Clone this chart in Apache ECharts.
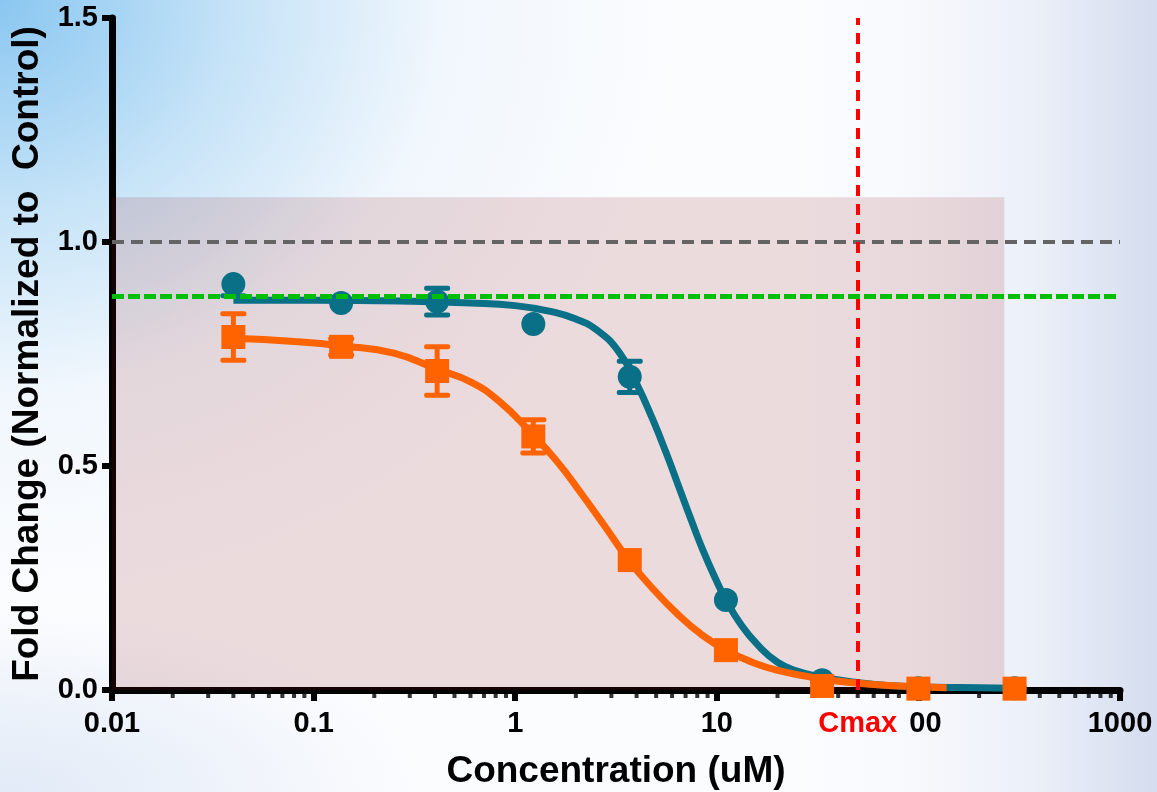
<!DOCTYPE html>
<html>
<head>
<meta charset="utf-8">
<title>Fold Change vs Concentration</title>
<script src="https://cdn.jsdelivr.net/npm/echarts@6/dist/echarts.min.js"></script>
<style>
  html, body { margin: 0; padding: 0; }
  #chart {
    width: 1157px;
    height: 792px;
    background:
      radial-gradient(ellipse 680px 600px at 0px 0px, rgba(132,196,240,0.95) 0%, rgba(170,214,244,0.65) 35%, rgba(215,234,249,0.3) 65%, rgba(255,255,255,0) 100%),
      linear-gradient(to left, rgba(208,217,237,0.9) 0px, rgba(222,229,243,0.55) 120px, rgba(240,243,249,0.25) 260px, rgba(255,255,255,0) 360px),
      radial-gradient(ellipse 420px 180px at 0px 792px, rgba(222,232,246,0.9) 0%, rgba(255,255,255,0) 100%),
      #fbfcfe;
  }
</style>
</head>
<body>
<div id="chart"></div>
<script>
// Concentrations tested (uM), shared by both compounds
const concentrations = [0.04, 0.137, 0.41, 1.23, 3.7, 11.1, 33.3, 100, 300];

// Teal compound: mean fold change, lower and upper SD (0 = bar not drawn / hidden in marker)
const tealMean    = [0.906, 0.864, 0.867, 0.817, 0.699, 0.201, 0.022, 0.004, 0.004];
const tealSDLow   = [0.026, 0, 0.030, 0, 0.035, 0, 0, 0, 0];
const tealSDHigh  = [0,     0, 0.030, 0, 0.035, 0, 0, 0, 0];

// Orange compound: mean fold change, lower and upper SD
const orangeMean   = [0.788, 0.766, 0.712, 0.566, 0.290, 0.089, 0.009, 0.003, 0.003];
const orangeSDLow  = [0.052, 0.018, 0.054, 0.037, 0, 0, 0, 0, 0];
const orangeSDHigh = [0.052, 0.018, 0.054, 0.037, 0, 0, 0, 0, 0];

// Fitted dose-response curves, sampled along the drawn line
const tealFitConc  = [0.04, 0.1, 0.3, 0.6, 1.0, 1.5, 2.0, 2.6, 3.3, 4.0, 4.8, 5.6, 6.5, 7.5, 8.5, 10, 11.1, 13, 16, 20, 25, 33, 47, 70, 120, 200, 293];
const tealFitValue = [0.870, 0.870, 0.868, 0.864, 0.858, 0.845, 0.828, 0.800, 0.752, 0.684, 0.605, 0.530, 0.452, 0.377, 0.314, 0.242, 0.201, 0.150, 0.100, 0.062, 0.042, 0.029, 0.018, 0.010, 0.006, 0.005, 0.004];

const orangeFitConc  = [0.04, 0.08, 0.14, 0.25, 0.41, 0.6, 0.83, 1.2, 1.6, 2.1, 2.8, 3.6, 4.6, 6.5, 8.5, 11.1, 15, 20, 33, 50, 80, 138];
const orangeFitValue = [0.785, 0.778, 0.768, 0.752, 0.716, 0.688, 0.645, 0.574, 0.512, 0.442, 0.364, 0.294, 0.236, 0.166, 0.122, 0.089, 0.062, 0.044, 0.025, 0.015, 0.009, 0.005];

// Reference levels
const controlLevel = 1.0;
const thresholdLevel = 0.88;
const cmaxConc = 50;
const shadedRegion = { concFrom: 0.01, concTo: 267, foldFrom: 0, foldTo: 1.1 };

// Axis ticks
const xTickValues = [0.01, 0.1, 1, 10, 100, 1000];
const xTickLabels = ['0.01', '0.1', '1', '10', '00', '1000'];
const minorMultipliers = [2, 3, 4, 5, 6, 7, 8, 9];
const minorDecades = [0.01, 0.1, 1, 10, 100];

const FONT = '"Liberation Sans", Arial, Helvetica, sans-serif';
const TEAL = '#0a7088';
const ORANGE = '#fe6300';

function zip(xs, ys) { return xs.map((x, i) => [x, ys[i]]); }
function errData(means, lows, highs) {
  return concentrations.map((c, i) => [c, means[i], lows[i], highs[i]]);
}
const minorTicks = [];
minorDecades.forEach(d => minorMultipliers.forEach(m => minorTicks.push([d * m, 0])));

function errorBarRenderer(color) {
  return function (params, api) {
    const x = api.value(0), mean = api.value(1), lo = api.value(2), hi = api.value(3);
    if (!lo && !hi) return null;
    const mid = api.coord([x, mean]);
    const top = api.coord([x, mean + hi]);
    const bot = api.coord([x, mean - lo]);
    const capW = 26, capH = 5, stemW = 5;
    const children = [
      { type: 'rect', shape: { x: mid[0] - stemW / 2, y: top[1], width: stemW, height: bot[1] - top[1] }, style: { fill: color } }
    ];
    if (hi) children.push({ type: 'rect', shape: { x: top[0] - capW / 2, y: top[1] - capH / 2, width: capW, height: capH, r: 2 }, style: { fill: color } });
    if (lo) children.push({ type: 'rect', shape: { x: bot[0] - capW / 2, y: bot[1] - capH / 2, width: capW, height: capH, r: 2 }, style: { fill: color } });
    return { type: 'group', children: children };
  };
}

const labelStyle = { fontFamily: FONT, fontWeight: 'bold', fontSize: 29, color: '#000' };
const titleStyle = { fontFamily: FONT, fontWeight: 'bold', fontSize: 37, color: '#000' };

const chart = echarts.init(document.getElementById('chart'), null, { renderer: 'canvas' });
chart.setOption({
  backgroundColor: 'transparent',
  animation: false,
  grid: { left: 112, right: 37, top: 18, bottom: 102, containLabel: false, outerBoundsMode: 'none' },
  xAxis: {
    type: 'log',
    logBase: 10,
    min: 0.01,
    max: 1000,
    name: 'Concentration (uM)',
    nameLocation: 'middle',
    nameGap: 63,
    nameTextStyle: titleStyle,
    axisLine: { show: true, onZero: false, lineStyle: { color: '#000', width: 7 } },
    axisTick: { show: true, length: 11, lineStyle: { color: '#000', width: 6 } },
    minorTick: { show: false },
    splitLine: { show: false },
    axisLabel: Object.assign({}, labelStyle, {
      margin: 19,
      formatter: function (v) {
        const i = xTickValues.findIndex(t => Math.abs(Math.log10(t) - Math.log10(v)) < 1e-6);
        if (i < 0) return '';
        return xTickValues[i] === 100 ? '{p|' + xTickLabels[i] + '}' : xTickLabels[i];
      },
      rich: { p: Object.assign({}, labelStyle, { padding: [0, 0, 0, 14] }) }
    })
  },
  yAxis: {
    type: 'value',
    min: 0,
    max: 1.5,
    interval: 0.5,
    name: 'Fold Change (Normalized to  Control)',
    nameLocation: 'middle',
    nameGap: 56,
    nameRotate: 90,
    nameTextStyle: titleStyle,
    axisLine: { show: true, onZero: false, lineStyle: { color: '#000', width: 7 } },
    axisTick: { show: true, length: 10, lineStyle: { color: '#000', width: 6 } },
    splitLine: { show: false },
    axisLabel: Object.assign({}, labelStyle, {
      margin: 14,
      formatter: v => v.toFixed(1)
    })
  },
  series: [
    {
      // minor decade ticks (2..9) under the x axis
      name: 'minor ticks',
      type: 'scatter',
      data: minorTicks,
      symbol: 'rect',
      symbolSize: [4, 8],
      symbolOffset: [0, 4],
      itemStyle: { color: '#000' },
      clip: false,
      silent: true,
      z: 1
    },
    {
      // reference lines: control level, threshold, Cmax
      name: 'reference',
      type: 'line',
      data: [],
      z: 1,
      markLine: {
        silent: true,
        symbol: ['none', 'none'],
        animation: false,
        data: [
          { yAxis: controlLevel, lineStyle: { color: '#646464', width: 4, type: [12, 7] }, label: { show: false } },
          { yAxis: thresholdLevel, lineStyle: { color: '#00bf00', width: 5, type: [12, 4] }, label: { show: false } },
          {
            xAxis: cmaxConc,
            lineStyle: { color: '#ff0000', width: 4, type: [11, 8] },
            label: {
              show: true, position: 'start', formatter: 'Cmax', distance: 19,
              fontFamily: FONT, fontWeight: 'bold', fontSize: 29, color: '#ff0000'
            }
          }
        ]
      }
    },
    {
      name: 'Teal fit',
      type: 'line',
      data: zip(tealFitConc, tealFitValue),
      smooth: 0.5,
      showSymbol: false,
      lineStyle: { color: TEAL, width: 7 },
      z: 2
    },
    {
      name: 'Orange fit',
      type: 'line',
      data: zip(orangeFitConc, orangeFitValue),
      smooth: 0.5,
      showSymbol: false,
      lineStyle: { color: ORANGE, width: 7 },
      z: 2
    },
    {
      name: 'Teal SD',
      type: 'custom',
      renderItem: errorBarRenderer(TEAL),
      data: errData(tealMean, tealSDLow, tealSDHigh),
      encode: { x: 0, y: 1 },
      clip: false,
      z: 3
    },
    {
      name: 'Orange SD',
      type: 'custom',
      renderItem: errorBarRenderer(ORANGE),
      data: errData(orangeMean, orangeSDLow, orangeSDHigh),
      encode: { x: 0, y: 1 },
      clip: false,
      z: 3
    },
    {
      name: 'Teal',
      type: 'scatter',
      data: zip(concentrations, tealMean),
      symbol: 'circle',
      symbolSize: 24,
      itemStyle: { color: TEAL, opacity: 1 },
      clip: false,
      z: 4
    },
    {
      name: 'Orange',
      type: 'scatter',
      data: zip(concentrations, orangeMean),
      symbol: 'rect',
      symbolSize: 24,
      itemStyle: { color: ORANGE, opacity: 1 },
      clip: false,
      z: 5
    },
    {
      // translucent shaded band laid over the plot
      name: 'shade',
      type: 'line',
      data: [],
      z: 10,
      markArea: {
        silent: true,
        itemStyle: { color: 'rgba(150,20,20,0.14)' },
        data: [[
          { xAxis: shadedRegion.concFrom, yAxis: shadedRegion.foldFrom },
          { xAxis: shadedRegion.concTo, yAxis: shadedRegion.foldTo }
        ]]
      }
    }
  ]
});
</script>
</body>
</html>
